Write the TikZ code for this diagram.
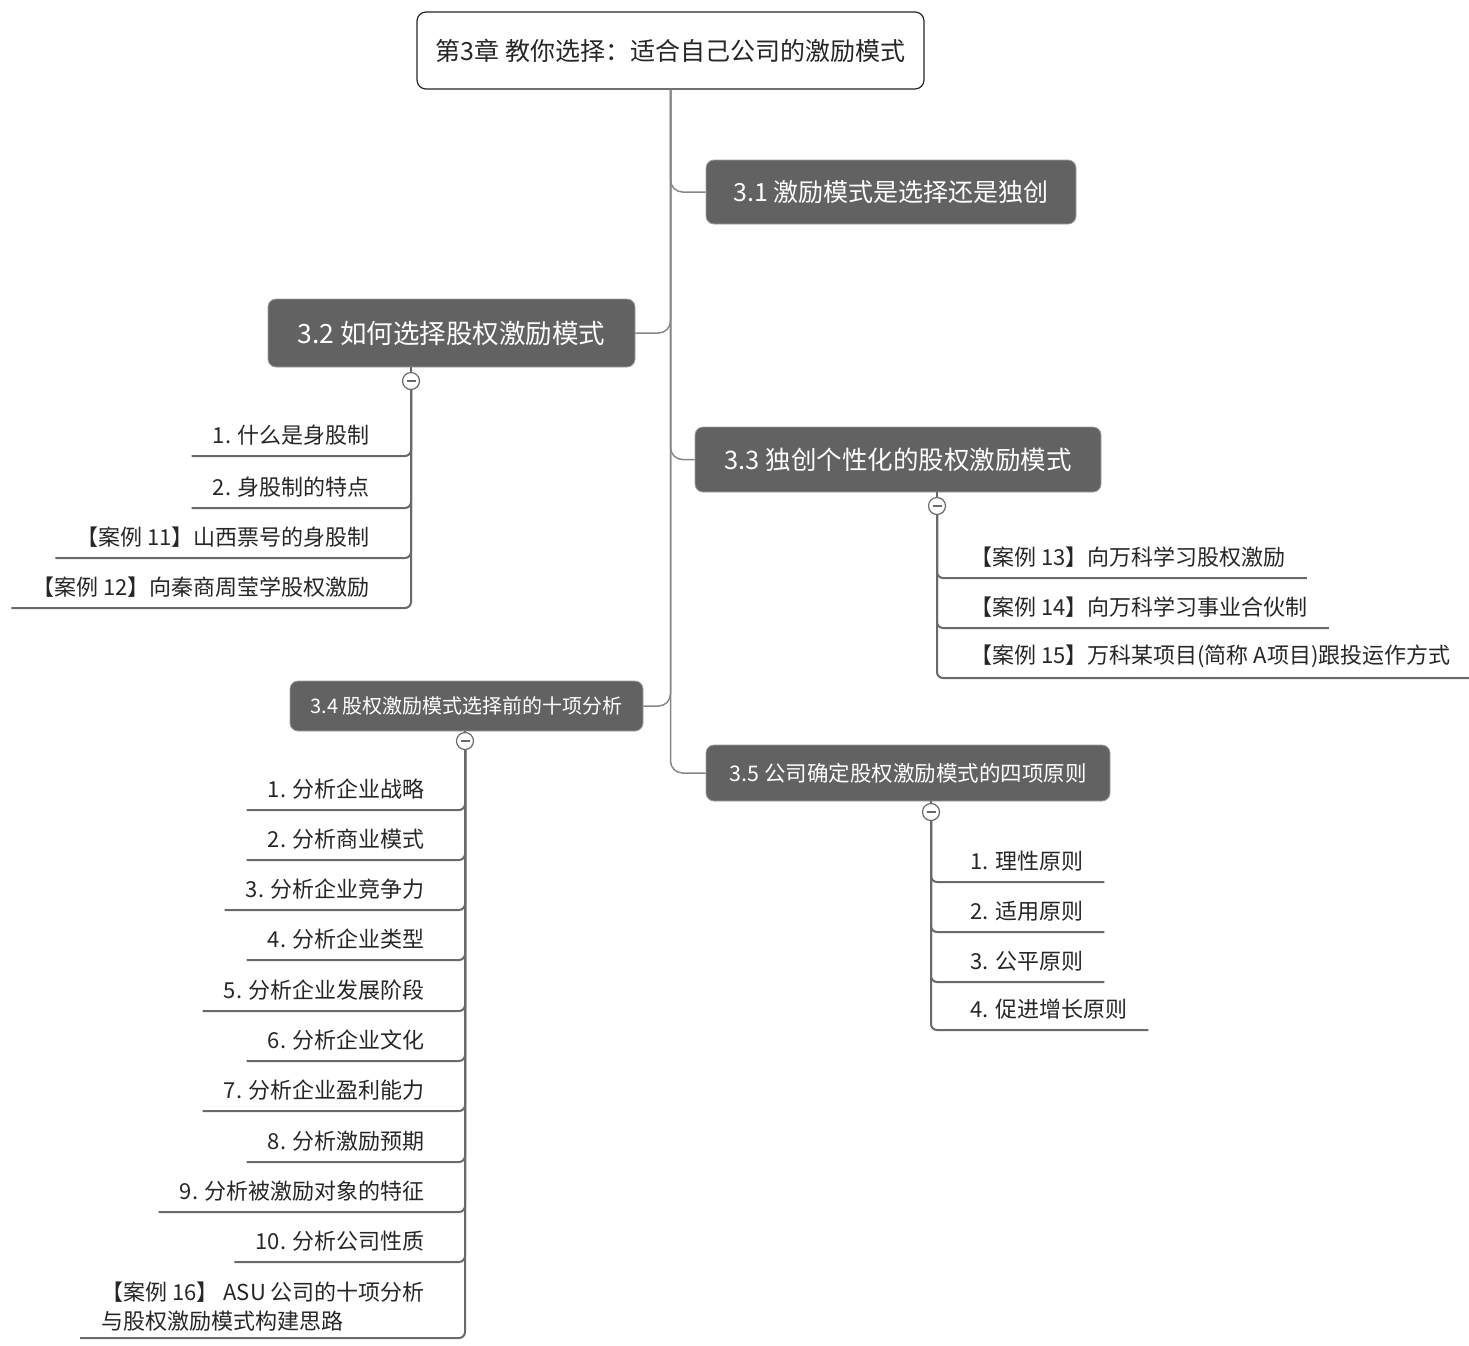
\documentclass[tikz,border=0pt]{standalone}
\usepackage{fontspec}
\setmainfont{Noto Sans CJK SC}
\usetikzlibrary{positioning,calc}
\definecolor{MapTopic}{RGB}{98,98,98}
\definecolor{MapEdge}{RGB}{135,135,135}
\definecolor{MapTwig}{RGB}{105,105,105}
\definecolor{MapText}{RGB}{38,38,38}
\definecolor{MapRim}{RGB}{160,160,160}

\begin{document}
\begin{tikzpicture}[
    x=1pt,y=-1pt,
    root/.style={draw=MapText,line width=1.2pt,rounded corners=9pt,fill=white,text=MapText,minimum width=507pt,minimum height=77pt,font=\fontsize{25}{30}\selectfont},
    topic/.style={draw=MapRim,line width=0.8pt,rounded corners=8pt,fill=MapTopic,text=white},
    fold/.style={circle,draw=MapTwig,fill=white,line width=1.2pt,minimum size=17pt,inner sep=0pt,
      path picture={\draw[MapTwig,line width=1.6pt] ([xshift=-4.5pt]path picture bounding box.center) -- ([xshift=4.5pt]path picture bounding box.center);}},
    leaf/.style={inner xsep=21pt,inner ysep=4pt,minimum height=42pt,text=MapText,font=\fontsize{22}{29}\selectfont},
    trunk/.style={draw=MapEdge,line width=1.5pt,rounded corners=12pt},
    twig/.style={draw=MapTwig,line width=2pt,rounded corners=6pt}
  ]
    \useasboundingbox (0,0) rectangle (1469,1345);

    \node[root] (root) at (670.5,50.5) {第3章\ 教你选择：适合自己公司的激励模式};

    \node[topic,minimum width=370pt,minimum height=64pt,font=\fontsize{25}{30}\selectfont] (t31) at (891,192) {3.1 激励模式是选择还是独创};
    \node[topic,minimum width=367pt,minimum height=68pt,font=\fontsize{26.5}{30}\selectfont] (t32) at (451.5,333) {3.2 如何选择股权激励模式};
    \node[topic,minimum width=406pt,minimum height=65pt,font=\fontsize{25.5}{30}\selectfont] (t33) at (898,459.5) {3.3 独创个性化的股权激励模式};
    \node[topic,minimum width=353pt,minimum height=50pt,font=\fontsize{20}{24}\selectfont] (t34) at (466.5,706) {3.4 股权激励模式选择前的十项分析};
    \node[topic,minimum width=404pt,minimum height=56pt,font=\fontsize{21.5}{26}\selectfont] (t35) at (908,773) {3.5 公司确定股权激励模式的四项原则};

    \draw[trunk] (root.south) |- (t31.west);
    \draw[trunk] (root.south) |- (t32.east);
    \draw[trunk] (root.south) |- (t33.west);
    \draw[trunk] (root.south) |- (t34.east);
    \draw[trunk] (root.south) |- (t35.west);

    % 3.2
    \node[fold] (f32) at (411,381) {};
    \draw[twig] (f32 |- t32.south) -- (f32.north);
    \node[leaf,anchor=south east] (c321) at (391,456) {1. 什么是身股制};
    \node[leaf,anchor=south east] (c322) at (391,508) {2. 身股制的特点};
    \node[leaf,anchor=south east] (c323) at (391,558) {【案例 11】山西票号的身股制};
    \node[leaf,anchor=south east] (c324) at (391,608) {【案例 12】向秦商周莹学股权激励};
    \foreach \c in {c321,c322,c323,c324}
      \draw[twig] (f32.south) |- (\c.south west);

    % 3.3
    \node[fold] (f33) at (937,506) {};
    \draw[twig] (f33 |- t33.south) -- (f33.north);
    \node[leaf,anchor=south west] (c331) at (949,578) {【案例 13】向万科学习股权激励};
    \node[leaf,anchor=south west] (c332) at (949,628) {【案例 14】向万科学习事业合伙制};
    \node[leaf,anchor=south west] (c333) at (949,678) {【案例 15】万科某项目(简称 A项目)跟投运作方式};
    \foreach \c in {c331,c332,c333}
      \draw[twig] (f33.south) |- (\c.south east);

    % 3.4
    \node[fold] (f34) at (465,741) {};
    \draw[twig] (f34 |- t34.south) -- (f34.north);
    \node[leaf,anchor=south east] (c341) at (446,810) {1. 分析企业战略};
    \node[leaf,anchor=south east] (c342) at (446,860) {2. 分析商业模式};
    \node[leaf,anchor=south east] (c343) at (446,910) {3. 分析企业竞争力};
    \node[leaf,anchor=south east] (c344) at (446,960) {4. 分析企业类型};
    \node[leaf,anchor=south east] (c345) at (446,1011) {5. 分析企业发展阶段};
    \node[leaf,anchor=south east] (c346) at (446,1061) {6. 分析企业文化};
    \node[leaf,anchor=south east] (c347) at (446,1111) {7. 分析企业盈利能力};
    \node[leaf,anchor=south east] (c348) at (446,1162) {8. 分析激励预期};
    \node[leaf,anchor=south east] (c349) at (446,1212) {9. 分析被激励对象的特征};
    \node[leaf,anchor=south east] (c3410) at (446,1262) {10. 分析公司性质};
    \node[leaf,anchor=south east,align=left,inner ysep=6pt] (c3411) at (446,1338) {【案例 16】 ASU 公司的十项分析\\与股权激励模式构建思路};
    \foreach \c in {c341,c342,c343,c344,c345,c346,c347,c348,c349,c3410,c3411}
      \draw[twig] (f34.south) |- (\c.south west);

    % 3.5
    \node[fold] (f35) at (931,812) {};
    \draw[twig] (f35 |- t35.south) -- (f35.north);
    \node[leaf,anchor=south west] (c351) at (949,882) {1. 理性原则};
    \node[leaf,anchor=south west] (c352) at (949,932) {2. 适用原则};
    \node[leaf,anchor=south west] (c353) at (949,982) {3. 公平原则};
    \node[leaf,anchor=south west] (c354) at (949,1030) {4. 促进增长原则};
    \foreach \c in {c351,c352,c353,c354}
      \draw[twig] (f35.south) |- (\c.south east);
  \end{tikzpicture}
\end{document}
